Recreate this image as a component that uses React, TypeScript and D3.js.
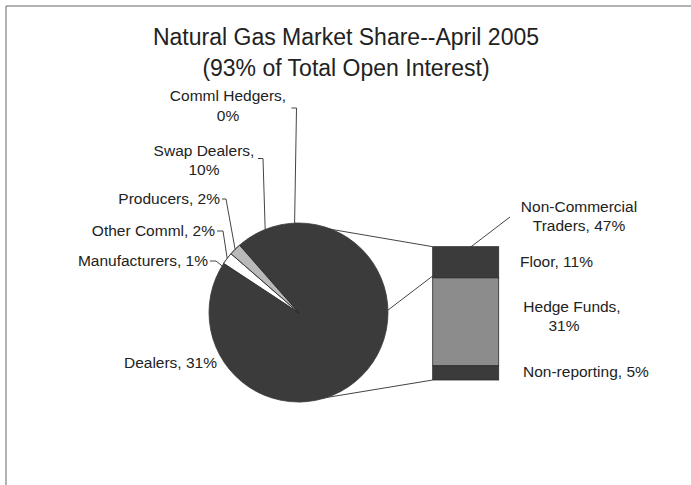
import React from "react";
import * as d3 from "d3";

// ---- data ----
const pieNames = ["Non-Commercial Traders", "Dealers", "Manufacturers", "Other Comml", "Producers", "Swap Dealers", "Comml Hedgers"];
const pieValues = [47, 31, 1, 2, 2, 10, 0];
const barNames = ["Floor", "Hedge Funds", "Non-reporting"];
const barValues = [11, 31, 5];
const titleLines = ["Natural Gas Market Share--April 2005", "(93% of Total Open Interest)"];

// ---- layout / style ----
const W = 691, H = 485;
const FONT = "'Liberation Sans', Arial, Helvetica, sans-serif";
const DARK = "#3b3b3b";
const pieFill: Record<string, string> = {
  "Non-Commercial Traders": DARK, Dealers: DARK, Manufacturers: DARK,
  "Other Comml": "#ffffff", Producers: "#b9b9b9", "Swap Dealers": DARK, "Comml Hedgers": DARK,
};
const barFill: Record<string, string> = { Floor: DARK, "Hedge Funds": "#8c8c8c", "Non-reporting": DARK };

const cx = 298.5, cy = 312.5, R = 89.5;
const startDeg = -2.5;
const barX0 = 432.7, barX1 = 498.7, barTop = 246.7, barBot = 380;

type LabelLayout = { lines: (n: string, v: number) => string[]; x: number; y: number; anchor: string; lh?: number; tick?: [number, number, number] };
const pieLabelLayout: Record<string, LabelLayout> = {
  "Comml Hedgers": { lines: (n, v) => [n + ",", v + "%"], x: 228, y: 101, anchor: "middle", lh: 20, tick: [291.5, 296.5, 108] },
  "Swap Dealers": { lines: (n, v) => [n + ",", v + "%"], x: 204, y: 156, anchor: "middle", lh: 19, tick: [258, 263, 158.5] },
  Producers: { lines: (n, v) => [`${n}, ${v}%`], x: 220, y: 204, anchor: "end", tick: [222, 226, 199] },
  "Other Comml": { lines: (n, v) => [`${n}, ${v}%`], x: 215, y: 236, anchor: "end", tick: [217, 223, 231] },
  Manufacturers: { lines: (n, v) => [`${n}, ${v}%`], x: 208, y: 266, anchor: "end", tick: [210, 216, 261] },
  Dealers: { lines: (n, v) => [`${n}, ${v}%`], x: 217, y: 368, anchor: "end" },
  "Non-Commercial": { lines: (n, v) => ["Non-Commercial", `Traders, ${v}%`], x: 579, y: 212, anchor: "middle", lh: 19 },
};
const barLabelLayout: Record<string, { lines: (n: string, v: number) => string[]; x: number; y: number; anchor: string; lh?: number; x2?: number }> = {
  Floor: { lines: (n, v) => [`${n}, ${v}%`], x: 520, y: 267, anchor: "start" },
  "Hedge Funds": { lines: (n, v) => [n + ",", v + "%"], x: 572, x2: 564, y: 312, anchor: "middle", lh: 19 },
  "Non-reporting": { lines: (n, v) => [`${n}, ${v}%`], x: 523, y: 377, anchor: "start" },
};

const rad = (d: number) => (d * Math.PI) / 180;

export default function App() {
  const pie = d3.pie<number>().sort(null).value((d) => d).startAngle(rad(startDeg)).endAngle(rad(startDeg + 360));
  const arcs = pie(pieValues);
  const arcGen = d3.arc<d3.PieArcDatum<number>>().innerRadius(0).outerRadius(R);
  const pt = (a: number, r = R): [number, number] => [cx + r * Math.sin(a), cy - r * Math.cos(a)];

  const yBar = d3.scaleLinear().domain([0, d3.sum(barValues)]).range([barTop, barBot]);
  const cum = d3.cumsum(barValues);

  const other = arcs[0];
  const pTop = pt(other.startAngle);
  const pBot = pt(other.endAngle);
  const pMid = pt((other.startAngle + other.endAngle) / 2);

  const fs = 15.5;
  const lightIdx = arcs.map((a, i) => i).filter((i) => pieFill[pieNames[i]] !== DARK);

  return (
    <svg width={W} height={H} style={{ position: "absolute", left: 0, top: 0, background: "#fff" }} fontFamily={FONT}>
      <rect x={0} y={0} width={W} height={H} fill="#fff" />
      {/* frame */}
      <line x1={6} y1={6} x2={W} y2={6} stroke="#666" strokeWidth={1} />
      <line x1={6} y1={6} x2={6} y2={H} stroke="#666" strokeWidth={1} />

      {/* title */}
      {titleLines.map((t, i) => (
        <text key={i} x={346} y={45 + i * 31} textAnchor="middle" fontSize={23} fill="#222">{t}</text>
      ))}

      {/* connector lines (under pie and bar) */}
      <line x1={pTop[0]} y1={pTop[1]} x2={barX0} y2={yBar(0)} stroke="#444" strokeWidth={1} />
      <line x1={pBot[0]} y1={pBot[1]} x2={barX0} y2={yBar(d3.sum(barValues))} stroke="#444" strokeWidth={1} />
      <line x1={pMid[0]} y1={pMid[1]} x2={510} y2={217} stroke="#444" strokeWidth={1} />

      {/* pie: dark slices share one colour, so paint them as one disc, then the light slices on top */}
      <g transform={`translate(${cx},${cy})`}>
        <circle r={R} fill={DARK} stroke={DARK} strokeWidth={0.8} />
        {lightIdx.map((i) => (
          <path key={i} d={arcGen(arcs[i]) || ""} fill={pieFill[pieNames[i]]} stroke="#222" strokeWidth={0.8} strokeLinejoin="round" />
        ))}
      </g>

      {/* bar */}
      {barValues.map((v, i) => (
        <rect key={i} x={barX0} width={barX1 - barX0} y={yBar(cum[i] - v)} height={yBar(cum[i]) - yBar(cum[i] - v)}
          fill={barFill[barNames[i]]} stroke="#2a2a2a" strokeWidth={0.8} />
      ))}

      {/* pie leader lines */}
      {arcs.map((a, i) => {
        const name = pieNames[i];
        const L = pieLabelLayout[name];
        if (!L || !L.tick) return null;
        const e = pt((a.startAngle + a.endAngle) / 2);
        return (
          <polyline key={i} points={`${L.tick[0]},${L.tick[2]} ${L.tick[1]},${L.tick[2]} ${e[0]},${e[1]}`}
            fill="none" stroke="#444" strokeWidth={1} />
        );
      })}

      {/* pie labels */}
      {pieNames.map((name, i) => {
        const key = i === 0 ? "Non-Commercial" : name;
        const L = pieLabelLayout[key];
        const lines = L.lines(name, pieValues[i]);
        return (
          <text key={i} fontSize={fs} fill="#222" textAnchor={L.anchor as any}>
            {lines.map((t, j) => (
              <tspan key={j} x={L.x} y={L.y + j * (L.lh || 19)}>{t}</tspan>
            ))}
          </text>
        );
      })}

      {/* bar labels */}
      {barNames.map((name, i) => {
        const L = barLabelLayout[name];
        const lines = L.lines(name, barValues[i]);
        return (
          <text key={i} fontSize={fs} fill="#222" textAnchor={L.anchor as any}>
            {lines.map((t, j) => (
              <tspan key={j} x={j > 0 && L.x2 ? L.x2 : L.x} y={L.y + j * (L.lh || 19)}>{t}</tspan>
            ))}
          </text>
        );
      })}
    </svg>
  );
}
